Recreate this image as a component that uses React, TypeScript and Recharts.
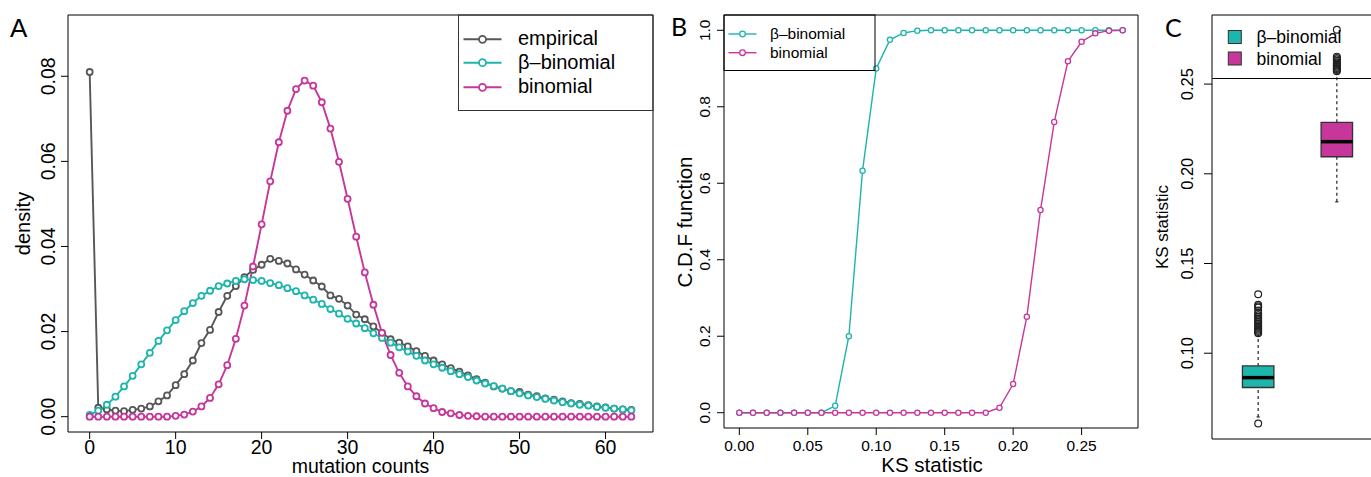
import React from 'react';
import {
  LineChart,
  Line,
  XAxis,
  YAxis,
  ReferenceArea,
  ReferenceLine,
  ComposedChart,
  Scatter,
} from 'recharts';

const FONT = '"Liberation Sans", Arial, Helvetica, sans-serif';
const LETTER_FONT = 'Lato, "Liberation Sans", sans-serif';
const GRAY = '#575757';
const TEAL = '#1DB5AC';
const MAGENTA = '#C6369B';

// ---------- Panel A : density of mutation counts ----------
const mutationCounts = [
  0, 1, 2, 3, 4, 5, 6, 7, 8, 9, 10, 11, 12, 13, 14, 15, 16, 17, 18, 19, 20, 21, 22, 23, 24, 25, 26, 27, 28, 29, 30, 31,
  32, 33, 34, 35, 36, 37, 38, 39, 40, 41, 42, 43, 44, 45, 46, 47, 48, 49, 50, 51, 52, 53, 54, 55, 56, 57, 58, 59, 60, 61,
  62, 63,
];
const empiricalDensity = [
  0.081, 0.0021, 0.0017, 0.0014, 0.0013, 0.0016, 0.0019, 0.0024, 0.0036, 0.005, 0.0074, 0.01, 0.0132, 0.0173, 0.0204,
  0.0246, 0.0284, 0.0307, 0.0328, 0.0345, 0.0357, 0.0371, 0.0366, 0.036, 0.0346, 0.0334, 0.032, 0.0306, 0.0285, 0.0277,
  0.0261, 0.024, 0.0229, 0.0212, 0.0197, 0.0182, 0.0174, 0.0165, 0.0154, 0.0143, 0.0132, 0.0123, 0.0114, 0.0106, 0.0097,
  0.0088, 0.008, 0.0071, 0.0066, 0.006, 0.0058, 0.0052, 0.0048, 0.0043, 0.004, 0.0036, 0.0032, 0.003, 0.0027, 0.0024,
  0.0022, 0.0019, 0.0017, 0.0016,
];
const betaBinomialDensity = [
  0.0004, 0.0014, 0.0028, 0.0047, 0.0071, 0.0096, 0.0123, 0.015, 0.0178, 0.0203, 0.0227, 0.0248, 0.0267, 0.0284, 0.0296,
  0.0307, 0.0313, 0.0319, 0.0323, 0.0321, 0.0319, 0.0314, 0.0309, 0.0302, 0.0295, 0.0285, 0.0275, 0.0265, 0.0253, 0.0242,
  0.023, 0.0219, 0.0208, 0.0196, 0.0185, 0.0174, 0.0163, 0.0153, 0.0143, 0.0132, 0.0123, 0.0115, 0.0107, 0.01, 0.0093,
  0.0085, 0.0078, 0.0072, 0.0066, 0.006, 0.0055, 0.005, 0.0046, 0.0042, 0.0038, 0.0034, 0.0031, 0.0028, 0.0026, 0.0023,
  0.0021, 0.0019, 0.0017, 0.0015,
];
const binomialDensity = [
  0, 0, 0, 0, 0, 0, 0, 0, 0, 0, 0.0002, 0.0005, 0.0012, 0.0024, 0.0044, 0.0076, 0.0121, 0.0183, 0.0261, 0.0353, 0.0452,
  0.0553, 0.0645, 0.0719, 0.077, 0.079, 0.0778, 0.0739, 0.0677, 0.0599, 0.0512, 0.0423, 0.0339, 0.0263, 0.0197, 0.0145,
  0.0103, 0.0071, 0.0048, 0.0031, 0.002, 0.0011, 0.0008, 0.0004, 0.0002, 0.0001, 0, 0, 0, 0, 0, 0, 0, 0, 0, 0, 0, 0, 0,
  0, 0, 0, 0, 0,
];
const ticksAx = [0, 10, 20, 30, 40, 50, 60];
const ticksAy = [0, 0.02, 0.04, 0.06, 0.08];
const domainAx: [number, number] = [-2.52, 65.52];
const domainAy: [number, number] = [-0.0036, 0.0944];
const legendA = ['empirical', 'β–binomial', 'binomial'];

// ---------- Panel B : CDF of KS statistic ----------
const ksGrid = [
  0, 0.01, 0.02, 0.03, 0.04, 0.05, 0.06, 0.07, 0.08, 0.09, 0.1, 0.11, 0.12, 0.13, 0.14, 0.15, 0.16, 0.17, 0.18, 0.19, 0.2,
  0.21, 0.22, 0.23, 0.24, 0.25, 0.26, 0.27, 0.28,
];
const cdfBetaBinomial = [
  0, 0, 0, 0, 0, 0, 0, 0.018, 0.2, 0.633, 0.9, 0.975, 0.993, 0.999, 1, 1, 1, 1, 1, 1, 1, 1, 1, 1, 1, 1, 1, 1, 1,
];
const cdfBinomial = [
  0, 0, 0, 0, 0, 0, 0, 0, 0, 0, 0, 0, 0, 0, 0, 0, 0, 0, 0, 0.013, 0.075, 0.251, 0.53, 0.76, 0.919, 0.97, 0.992, 0.999, 1,
];
const ticksBx = [0, 0.05, 0.1, 0.15, 0.2, 0.25];
const ticksBy = [0, 0.2, 0.4, 0.6, 0.8, 1.0];
const domainBx: [number, number] = [-0.0112, 0.2912];
const domainBy: [number, number] = [-0.04, 1.04];
const legendB = ['β–binomial', 'binomial'];

// ---------- Panel C : boxplots of KS statistic ----------
const boxGroups = ['β–binomial', 'binomial'];
const boxPositions = [1, 2];
const boxColors = [TEAL, MAGENTA];
const whiskerLow = [0.0645, 0.1844];
const boxQ1 = [0.0809, 0.2095];
const boxMedian = [0.0864, 0.2179];
const boxQ3 = [0.0929, 0.2287];
const whiskerHigh = [0.1105, 0.2555];
const outliersBetaBinomial = [
  0.0608, 0.1112, 0.1118, 0.1125, 0.1132, 0.114, 0.1148, 0.1156, 0.1165, 0.1174, 0.1183, 0.1192, 0.1202, 0.1212,
  0.1222, 0.1238, 0.1255, 0.1262, 0.127, 0.1329,
];
const outliersBinomial = [
  0.2572, 0.2578, 0.2584, 0.259, 0.2596, 0.2602, 0.2608, 0.2615, 0.2622, 0.263, 0.2638, 0.2646, 0.2653, 0.2803,
];
const ticksCy = [0.1, 0.15, 0.2, 0.25];
const domainCx: [number, number] = [0.413, 2.587];
const domainCy: [number, number] = [0.0522, 0.2885];

const dataA = mutationCounts.map((x, i) => ({
  x,
  emp: empiricalDensity[i],
  beta: betaBinomialDensity[i],
  bin: binomialDensity[i],
}));
const dataB = ksGrid.map((x, i) => ({ x, beta: cdfBetaBinomial[i], bin: cdfBinomial[i] }));
const outlierData = [
  ...outliersBetaBinomial.map((y) => ({ x: boxPositions[0], y })),
  ...outliersBinomial.map((y) => ({ x: boxPositions[1], y })),
];

const makeXTick = (fontSize: number, dy: number, fmt: (v: number) => string) => (props: any) => {
  const { x, y, payload } = props;
  return (
    <text x={x} y={y + dy} textAnchor="middle" fontSize={fontSize} fontFamily={FONT} fill="#000">
      {fmt(payload.value)}
    </text>
  );
};
const makeYTick = (fontSize: number, dx: number, fmt: (v: number) => string) => (props: any) => {
  const { x, y, payload } = props;
  const tx = x + dx;
  return (
    <text
      x={tx}
      y={y}
      transform={`rotate(-90 ${tx} ${y})`}
      textAnchor="middle"
      fontSize={fontSize}
      fontFamily={FONT}
      fill="#000"
    >
      {fmt(payload.value)}
    </text>
  );
};

const OutlierShape = (props: any) => {
  const { cx, cy } = props;
  return <circle cx={cx} cy={cy} r={3.4} fill="none" stroke="#222" strokeWidth={1.2} />;
};

const dotStyle = (color: string, r: number, sw: number) => ({ r, fill: '#fff', stroke: color, strokeWidth: sw });

export default function App() {
  const colorsA = [GRAY, TEAL, MAGENTA];
  const colorsB = [TEAL, MAGENTA];
  return (
    <div
      style={{
        position: 'absolute',
        left: 0,
        top: 0,
        width: 1371,
        height: 477,
        overflow: 'hidden',
        background: '#fff',
        fontFamily: FONT,
      }}
    >
      {/* Panel A */}
      <div style={{ position: 'absolute', left: 0, top: 0 }}>
        <LineChart width={680} height={477} data={dataA} margin={{ top: 15, right: 27, bottom: 0, left: 0 }}>
          <XAxis
            dataKey="x"
            type="number"
            domain={domainAx}
            ticks={ticksAx}
            height={45}
            axisLine={false}
            tickSize={7}
            tickMargin={0}
            tickLine={{ stroke: '#000' }}
            tick={makeXTick(19.5, 15, (v) => String(v))}
            allowDataOverflow
          />
          <YAxis
            type="number"
            domain={domainAy}
            ticks={ticksAy}
            width={68}
            axisLine={false}
            tickSize={7}
            tickMargin={0}
            tickLine={{ stroke: '#000' }}
            tick={makeYTick(19.5, -6, (v) => v.toFixed(2))}
            allowDataOverflow
          />
          <ReferenceArea
            x1={domainAx[0]}
            x2={domainAx[1]}
            y1={domainAy[0]}
            y2={domainAy[1]}
            fill="none"
            stroke="#000"
            strokeWidth={1}
            ifOverflow="visible"
          />
          <Line
            dataKey="emp"
            stroke={GRAY}
            strokeWidth={1.9}
            dot={dotStyle(GRAY, 3, 1.8)}
            isAnimationActive={false}
          />
          <Line
            dataKey="beta"
            stroke={TEAL}
            strokeWidth={1.9}
            dot={dotStyle(TEAL, 3, 1.8)}
            isAnimationActive={false}
          />
          <Line
            dataKey="bin"
            stroke={MAGENTA}
            strokeWidth={1.9}
            dot={dotStyle(MAGENTA, 3, 1.8)}
            isAnimationActive={false}
          />
        </LineChart>
      </div>

      {/* Panel B */}
      <div style={{ position: 'absolute', left: 660, top: 0 }}>
        <LineChart width={500} height={477} data={dataB} margin={{ top: 15, right: 22, bottom: 0, left: 0 }}>
          <XAxis
            dataKey="x"
            type="number"
            domain={domainBx}
            ticks={ticksBx}
            height={49}
            axisLine={false}
            tickSize={7}
            tickMargin={0}
            tickLine={{ stroke: '#000' }}
            tick={makeXTick(15.5, 16.4, (v) => v.toFixed(2))}
            allowDataOverflow
          />
          <YAxis
            type="number"
            domain={domainBy}
            ticks={ticksBy}
            width={64}
            axisLine={false}
            tickSize={7}
            tickMargin={0}
            tickLine={{ stroke: '#000' }}
            tick={makeYTick(15.5, -7, (v) => v.toFixed(1))}
            allowDataOverflow
          />
          <ReferenceArea
            x1={domainBx[0]}
            x2={domainBx[1]}
            y1={domainBy[0]}
            y2={domainBy[1]}
            fill="none"
            stroke="#000"
            strokeWidth={1}
            ifOverflow="visible"
          />
          <Line
            dataKey="beta"
            stroke={TEAL}
            strokeWidth={1.4}
            dot={dotStyle(TEAL, 2.6, 1.3)}
            isAnimationActive={false}
          />
          <Line
            dataKey="bin"
            stroke={MAGENTA}
            strokeWidth={1.4}
            dot={dotStyle(MAGENTA, 2.6, 1.3)}
            isAnimationActive={false}
          />
        </LineChart>
      </div>

      {/* Panel C */}
      <div style={{ position: 'absolute', left: 1140, top: 0 }}>
        <ComposedChart width={243} height={477} data={outlierData} margin={{ top: 15, right: 0, bottom: 38, left: 0 }}>
          <XAxis dataKey="x" type="number" domain={domainCx} hide allowDataOverflow />
          <YAxis
            type="number"
            domain={domainCy}
            ticks={ticksCy}
            width={72}
            axisLine={false}
            tickSize={8}
            tickMargin={0}
            tickLine={{ stroke: '#000' }}
            tick={makeYTick(16.5, -11, (v) => v.toFixed(2))}
            allowDataOverflow
          />
          <ReferenceArea
            x1={domainCx[0]}
            x2={domainCx[1]}
            y1={domainCy[0]}
            y2={domainCy[1]}
            fill="none"
            stroke="#000"
            strokeWidth={1}
            ifOverflow="visible"
          />
          {boxPositions.map((p, i) => (
            <ReferenceLine
              key={`wl${i}`}
              segment={[
                { x: p, y: whiskerLow[i] },
                { x: p, y: boxQ1[i] },
              ]}
              stroke="#333"
              strokeWidth={1.3}
              strokeDasharray="3 3"
              ifOverflow="visible"
            />
          ))}
          {boxPositions.map((p, i) => (
            <ReferenceLine
              key={`wh${i}`}
              segment={[
                { x: p, y: boxQ3[i] },
                { x: p, y: whiskerHigh[i] },
              ]}
              stroke="#333"
              strokeWidth={1.3}
              strokeDasharray="3 3"
              ifOverflow="visible"
            />
          ))}
          {boxPositions.map((p, i) => (
            <ReferenceLine
              key={`sl${i}`}
              segment={[
                { x: p - 0.02, y: whiskerLow[i] },
                { x: p + 0.02, y: whiskerLow[i] },
              ]}
              stroke="#333"
              strokeWidth={1.3}
              ifOverflow="visible"
            />
          ))}
          {boxPositions.map((p, i) => (
            <ReferenceArea
              key={`box${i}`}
              x1={p - 0.2}
              x2={p + 0.2}
              y1={boxQ1[i]}
              y2={boxQ3[i]}
              fill={boxColors[i]}
              fillOpacity={1}
              stroke="#333"
              strokeWidth={1.3}
              ifOverflow="visible"
            />
          ))}
          {boxPositions.map((p, i) => (
            <ReferenceLine
              key={`med${i}`}
              segment={[
                { x: p - 0.2, y: boxMedian[i] },
                { x: p + 0.2, y: boxMedian[i] },
              ]}
              stroke="#000"
              strokeWidth={3.5}
              ifOverflow="visible"
            />
          ))}
          <Scatter dataKey="y" shape={OutlierShape} isAnimationActive={false} />
        </ComposedChart>
      </div>

      {/* Titles, panel letters and legends */}
      <svg
        width={1371}
        height={477}
        style={{ position: 'absolute', left: 0, top: 0, pointerEvents: 'none' }}
        fontFamily={FONT}
      >
        <text x={10} y={37} fontSize={26} fill="#000">A</text>
        <text x={671} y={36} fontSize={25} fill="#000" fontFamily={LETTER_FONT}>B</text>
        <text x={1165} y={37} fontSize={25} fill="#000" fontFamily={LETTER_FONT}>C</text>

        <text x={30} y={223.5} transform="rotate(-90 30 223.5)" textAnchor="middle" fontSize={20} fill="#000">
          density
        </text>
        <text x={360.5} y={472.5} textAnchor="middle" fontSize={19.5} fill="#000">
          mutation counts
        </text>
        <text x={692} y={222} transform="rotate(-90 692 222)" textAnchor="middle" fontSize={20.5} fill="#000">
          C.D.F function
        </text>
        <text x={932} y={472} textAnchor="middle" fontSize={20.5} fill="#000">
          KS statistic
        </text>
        <text x={1168} y={227} transform="rotate(-90 1168 227)" textAnchor="middle" fontSize={17} fill="#000">
          KS statistic
        </text>

        {/* Legend A */}
        <rect x={458.5} y={15} width={194.5} height={95.5} fill="none" stroke="#333" strokeWidth={1} />
        {legendA.map((name, i) => {
          const cy = [39.3, 62.7, 87.3][i];
          return (
            <g key={name}>
              <line x1={463.5} x2={501.5} y1={cy} y2={cy} stroke={colorsA[i]} strokeWidth={2} />
              <circle cx={482.5} cy={cy} r={3.5} fill="#fff" stroke={colorsA[i]} strokeWidth={1.8} />
              <text x={518} y={cy + 6} fontSize={20} fill="#000">
                {name}
              </text>
            </g>
          );
        })}

        {/* Legend B */}
        <rect x={724} y={15} width={151} height={55.5} fill="none" stroke="#000" strokeWidth={1} />
        {legendB.map((name, i) => {
          const cy = [34, 52.7][i];
          return (
            <g key={name}>
              <line x1={728.5} x2={756.5} y1={cy} y2={cy} stroke={colorsB[i]} strokeWidth={1.4} />
              <circle cx={742.5} cy={cy} r={2.8} fill="#fff" stroke={colorsB[i]} strokeWidth={1.3} />
              <text x={770} y={cy + 5.3} fontSize={15.5} fill="#000">
                {name}
              </text>
            </g>
          );
        })}

        {/* Legend C */}
        <line x1={1212.3} x2={1371} y1={78.5} y2={78.5} stroke="#000" strokeWidth={1} />
        {boxGroups.map((name, i) => {
          const cy = [37, 58.5][i];
          return (
            <g key={name}>
              <rect x={1228.3} y={cy - 6.5} width={13} height={13} fill={boxColors[i]} stroke="#333" strokeWidth={1} />
              <text x={1256.5} y={cy + 6} fontSize={17.5} fill="#000">
                {name}
              </text>
            </g>
          );
        })}
      </svg>
    </div>
  );
}
